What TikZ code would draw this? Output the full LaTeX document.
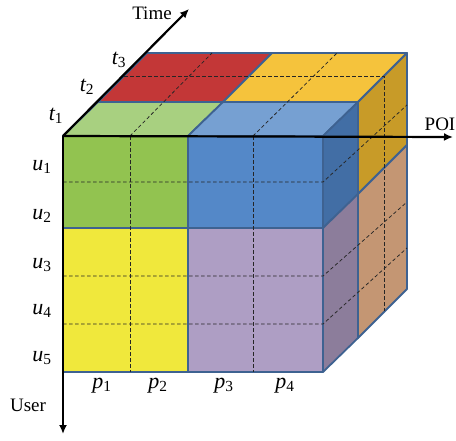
\documentclass[tikz,border=0pt]{standalone}
\usepackage{fontspec}
\setmainfont{Liberation Serif}
\usetikzlibrary{arrows.meta}
\definecolor{greenF}{RGB}{146,195,80}
\definecolor{greenT}{RGB}{168,208,128}
\definecolor{blueF}{RGB}{84,136,200}
\definecolor{blueT}{RGB}{118,160,210}
\definecolor{blueS}{RGB}{66,110,165}
\definecolor{redT}{RGB}{195,55,55}
\definecolor{orangeT}{RGB}{245,195,60}
\definecolor{orangeS}{RGB}{200,155,40}
\definecolor{brownS}{RGB}{196,150,115}
\definecolor{yellowF}{RGB}{240,232,60}
\definecolor{purpleF}{RGB}{174,158,196}
\definecolor{purpleS}{RGB}{140,125,155}
\definecolor{edgeC}{RGB}{62,98,145}
\newcommand\mylab[2]{{\itshape #1}\textsubscript{#2}}
\tikzset{
  face/.style={draw=edgeC, line width=1.8pt, line join=round},
  grid/.style={draw=black!85, line width=0.75pt, dash pattern=on 3.5pt off 2.5pt},
  axis/.style={draw=black, line width=2.2pt, -{Latex[length=9pt,width=8pt]}},
  lbl/.style={inner sep=0pt, font=\fontsize{22}{26}\selectfont},
  axlbl/.style={inner sep=0pt, font=\fontsize{19}{22}\selectfont},
}
\begin{document}
\begin{tikzpicture}[x=1pt,y=-1pt]
\useasboundingbox (0,0) rectangle (456,440);
% back block (t2, t3)
\fill[redT, face] (98,102) -- (223,102) -- (272,53) -- (147,53) -- cycle;
\fill[orangeT, face] (223,102) -- (358,102) -- (407,53) -- (272,53) -- cycle;
\fill[orangeS, face] (358,102) -- (407,53) -- (407,145) -- (358,194) -- cycle;
\fill[brownS, face] (358,194) -- (407,145) -- (407,289) -- (358,338) -- cycle;
% front slab (t1)
\fill[greenT, face] (63,136) -- (188,136) -- (223,102) -- (98,102) -- cycle;
\fill[blueT, face] (188,136) -- (323,136) -- (358,102) -- (223,102) -- cycle;
\fill[blueS, face] (323,136) -- (358,102) -- (358,194) -- (323,228) -- cycle;
\fill[purpleS, face] (323,228) -- (358,194) -- (358,338) -- (323,372) -- cycle;
\fill[greenF, face] (63,136) rectangle (188,228);
\fill[blueF, face] (188,136) rectangle (323,228);
\fill[yellowF, face] (63,228) rectangle (188,372);
\fill[purpleF, face] (188,228) rectangle (323,372);
% dashed grid
\draw[grid] (130,136) -- (212,53);
\draw[grid] (253,136) -- (337,53);
\draw[grid] (124,76) -- (384,76) -- (384,311);
\draw[grid] (130,136) -- (130,372);
\draw[grid] (253,136) -- (253,372);
\draw[grid] (63,182) -- (323,182) -- (407,105);
\draw[grid] (63,276) -- (323,276) -- (407,202);
\draw[grid] (63,324) -- (323,324) -- (407,248);
% axes
\coordinate (O) at (63,136);
\coordinate (Tend) at (189,9);
\coordinate (Pend) at (453,137);
\coordinate (Uend) at (63,434);
\draw[axis] (O) -- (Tend);
\draw[axis] (O) -- (Pend);
\draw[axis] (O) -- (Uend);
\node[axlbl] (time) at (152,13) {Time};
\node[axlbl] (poi) at (440,124) {POI};
\node[axlbl] (user) at (28,405) {User};
% labels
\node[lbl] (t1) at (56,116) {\mylab{t}{1}};
\node[lbl] (t2) at (87,87) {\mylab{t}{2}};
\node[lbl] (t3) at (119,60) {\mylab{t}{3}};
\node[lbl] (u1) at (42,167) {\mylab{u}{1}};
\node[lbl] (u2) at (42,216) {\mylab{u}{2}};
\node[lbl] (u3) at (42,265) {\mylab{u}{3}};
\node[lbl] (u4) at (42,311) {\mylab{u}{4}};
\node[lbl] (u5) at (42,358) {\mylab{u}{5}};
\node[lbl] (p1) at (102,386) {\mylab{p}{1}};
\node[lbl] (p2) at (158,386) {\mylab{p}{2}};
\node[lbl] (p3) at (224,386) {\mylab{p}{3}};
\node[lbl] (p4) at (285,386) {\mylab{p}{4}};
\end{tikzpicture}
\end{document}
